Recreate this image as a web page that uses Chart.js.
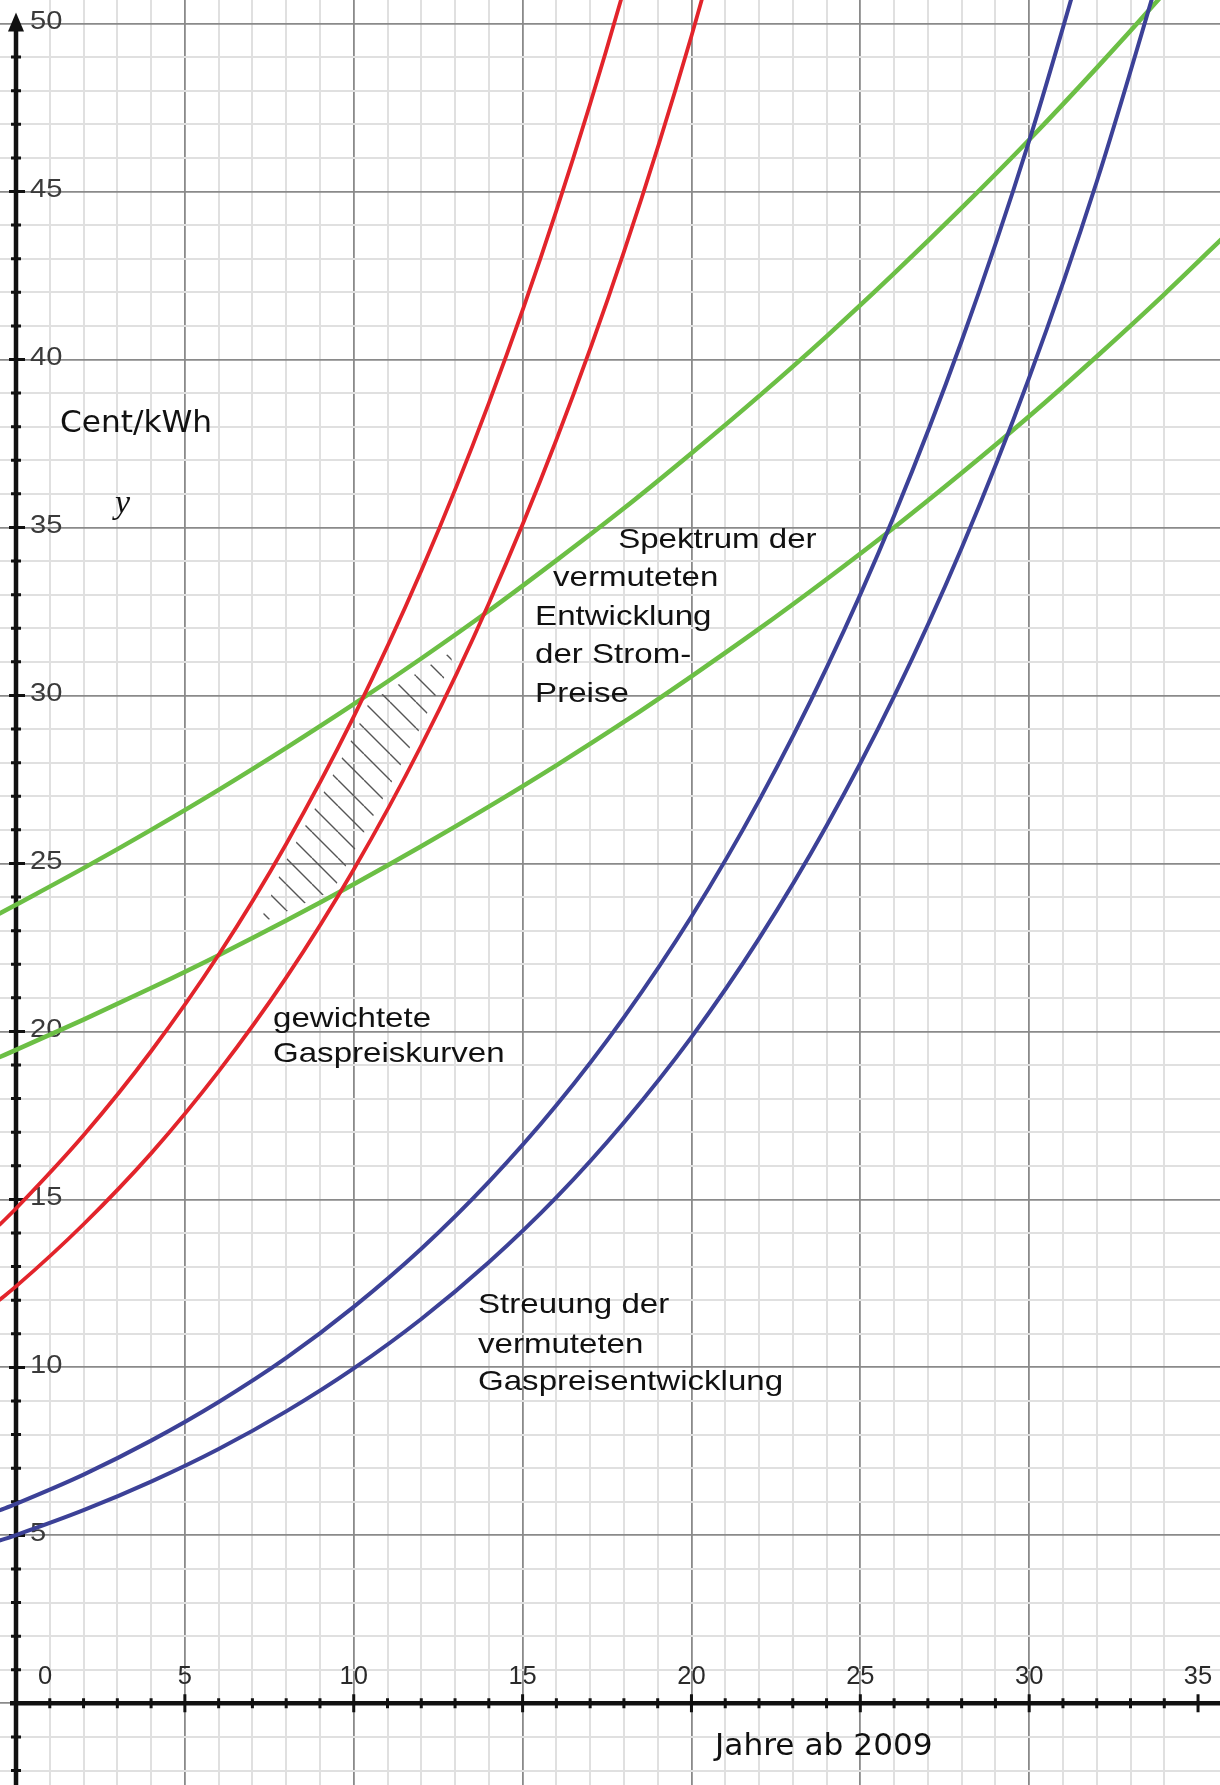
<!DOCTYPE html>
<html>
<head>
<meta charset="utf-8">
<title>Gas- und Strompreise</title>
<script src="https://cdn.jsdelivr.net/npm/chart.js@4.4.1/dist/chart.umd.min.js"></script>
<style>
  html, body { margin: 0; padding: 0; background: #fff; }
  #wrap { width: 1220px; height: 1785px; }
</style>
</head>
<body>
<div id="wrap"><canvas id="chart" width="1220" height="1785"></canvas></div>
<script>
// Jahre ab 2009 (x) and Cent/kWh values
const years = [-0.5, 0, 2, 4, 6, 8, 10, 12, 14, 16, 18, 20, 22, 24, 26, 28, 30, 32, 34, 36];

const gasWeightedHigh = [14.23, 14.73, 16.91, 19.41, 22.28, 25.58, 29.37, 33.71, 38.70, 44.43, 51.01, 58.55];
const gasWeightedLow  = [12.00, 12.41, 14.26, 16.37, 18.81, 21.60, 24.82, 28.51, 32.74, 37.61, 43.20, 49.63, 57.00];
const gasHigh = [5.74, 5.94, 6.81, 7.82, 8.97, 10.28, 11.80, 13.53, 15.52, 17.80, 20.42, 23.42, 26.87, 30.82, 35.35, 40.55, 46.51, 53.35];
const gasLow  = [4.84, 5.01, 5.75, 6.60, 7.57, 8.69, 9.97, 11.44, 13.13, 15.06, 17.29, 19.83, 22.76, 26.12, 29.97, 34.39, 39.46, 45.29, 51.97];
const stromHigh = [23.50, 23.77, 24.86, 26.00, 27.19, 28.44, 29.74, 31.10, 32.52, 34.02, 35.57, 37.21, 38.91, 40.69, 42.56, 44.51, 46.54, 48.68, 50.91, 53.24];
const stromLow  = [19.23, 19.45, 20.35, 21.29, 22.27, 23.30, 24.38, 25.51, 26.69, 27.92, 29.21, 30.57, 31.98, 33.46, 35.00, 36.62, 38.31, 40.09, 41.94, 43.88];

// outline of the hatched area (between the red and the green curves)
const hatchX = [7.2, 7.95, 9.05, 10.1, 10.45, 11.6, 12.9, 12.9, 11.95, 10.9, 9.8, 9.4, 8.3, 7.2];
const hatchY = [23.2, 25.0, 27.0, 29.0, 29.8, 30.5, 31.3, 31.0, 29.0, 27.0, 25.0, 24.2, 23.7, 23.2];

const xTickLabels = [0, 5, 10, 15, 20, 25, 30, 35];
const yTickLabels = [5, 10, 15, 20, 25, 30, 35, 40, 45, 50];

const pts = (xs, ys) => ys.map((v, i) => ({x: xs[i], y: v}));

function makeHatch() {
  const s = 26;
  const c = document.createElement('canvas');
  c.width = s; c.height = s;
  const g = c.getContext('2d');
  g.strokeStyle = '#555';
  g.lineWidth = 1.4;
  g.beginPath();
  for (const k of [-s, 0, s]) {
    g.moveTo(0, k);
    g.lineTo(s, k + s);
  }
  g.stroke();
  return g.createPattern(c, 'repeat');
}

function stretchText(ctx, str, x, y, sx) {
  ctx.save();
  ctx.translate(x, y);
  ctx.scale(sx, 1);
  ctx.fillText(str, 0, 0);
  ctx.restore();
}

function curve(data, color, width) {
  return {
    data: data, showLine: true, borderColor: color, borderWidth: width,
    pointRadius: 0, fill: false, cubicInterpolationMode: 'monotone'
  };
}

// black axes through the origin, with ticks and labels
const axesPlugin = {
  id: 'axes',
  beforeDatasetsDraw(chart) {
    const ctx = chart.ctx;
    const xs = chart.scales.x, ys = chart.scales.y;
    const x0 = xs.getPixelForValue(0), y0 = ys.getPixelForValue(0);
    const top = ys.getPixelForValue(50);
    ctx.save();
    ctx.strokeStyle = '#111';
    ctx.fillStyle = '#111';
    ctx.lineWidth = 4.5;
    ctx.beginPath();
    ctx.moveTo(x0, chart.height);
    ctx.lineTo(x0, top - 4);
    ctx.moveTo(x0 - 6, y0);
    ctx.lineTo(chart.width, y0);
    ctx.stroke();
    // arrow
    ctx.beginPath();
    ctx.moveTo(x0, top - 11);
    ctx.lineTo(x0 - 8, top + 8);
    ctx.lineTo(x0 + 8, top + 8);
    ctx.closePath();
    ctx.fill();
    // ticks
    ctx.lineWidth = 3;
    ctx.beginPath();
    for (let v = -2; v <= 49; v++) {
      if (v === 0) continue;
      const p = ys.getPixelForValue(v);
      const big = v % 5 === 0;
      ctx.moveTo(x0 - (big ? 7 : 5), p);
      ctx.lineTo(x0 + (big ? 9 : 5), p);
    }
    for (let v = 1; v <= 35; v++) {
      const p = xs.getPixelForValue(v);
      const big = v % 5 === 0;
      ctx.moveTo(p, y0 - (big ? 9 : 5));
      ctx.lineTo(p, y0 + (big ? 9 : 5));
    }
    ctx.stroke();
    // labels
    ctx.font = '26px "Liberation Sans", Arial, sans-serif';
    ctx.fillStyle = '#3a3a3a';
    ctx.textBaseline = 'middle';
    ctx.textAlign = 'left';
    yTickLabels.forEach(v => {
      stretchText(ctx, String(v), x0 + 14, ys.getPixelForValue(v) - 2, 1.12);
    });
    ctx.fillStyle = '#2a2a2a';
    ctx.font = '25px "Liberation Sans", Arial, sans-serif';
    ctx.textAlign = 'center';
    ctx.textBaseline = 'alphabetic';
    xTickLabels.forEach(v => {
      const p = v === 0 ? x0 + 29 : xs.getPixelForValue(v);
      stretchText(ctx, String(v), p, y0 - 19, 1.02);
    });
    ctx.restore();
  }
};

const notes = [
  {text: 'Spektrum der', x: 17.83, y: 34.39},
  {text: 'vermuteten', x: 15.90, y: 33.26},
  {text: 'Entwicklung', x: 15.37, y: 32.10},
  {text: 'der Strom-', x: 15.37, y: 30.97},
  {text: 'Preise', x: 15.37, y: 29.81},
  {text: 'gewichtete', x: 7.61, y: 20.13},
  {text: 'Gaspreiskurven', x: 7.61, y: 19.09},
  {text: 'Streuung der', x: 13.68, y: 11.62},
  {text: 'vermuteten', x: 13.68, y: 10.43},
  {text: 'Gaspreisentwicklung', x: 13.68, y: 9.33}
];

const notesPlugin = {
  id: 'notes',
  afterDatasetsDraw(chart) {
    const ctx = chart.ctx;
    const xs = chart.scales.x, ys = chart.scales.y;
    ctx.save();
    ctx.fillStyle = '#111';
    ctx.textAlign = 'left';
    ctx.textBaseline = 'alphabetic';
    ctx.font = '28.5px "Liberation Sans", Arial, sans-serif';
    notes.forEach(n => {
      stretchText(ctx, n.text, xs.getPixelForValue(n.x), ys.getPixelForValue(n.y), 1.16);
    });
    ctx.font = '30px "DejaVu Sans", sans-serif';
    stretchText(ctx, 'Cent/kWh', xs.getPixelForValue(1.30), ys.getPixelForValue(37.84), 1.04);
    stretchText(ctx, 'Jahre ab 2009', xs.getPixelForValue(20.70), ys.getPixelForValue(-1.53), 1.04);
    ctx.font = 'italic 34px "Liberation Serif", "DejaVu Serif", serif';
    ctx.fillText('y', xs.getPixelForValue(2.93), ys.getPixelForValue(35.43));
    ctx.restore();
  }
};

function gridColor(c) {
  const v = c.tick ? c.tick.value : NaN;
  const r = Math.round(v);
  if (Math.abs(v - r) > 1e-6) return 'rgba(0,0,0,0)';
  return r % 5 === 0 ? '#8a8a8a' : '#e0e0e0';
}
function gridWidth(c) {
  const v = c.tick ? c.tick.value : 0;
  return Math.round(v) % 5 === 0 ? 1.8 : 2;
}

new Chart(document.getElementById('chart'), {
  type: 'scatter',
  data: {
    datasets: [
      curve(pts(years, gasWeightedHigh), '#e2242b', 3.8),
      curve(pts(years, gasWeightedLow), '#e2242b', 3.8),
      curve(pts(years, gasHigh), '#3c4197', 4),
      curve(pts(years, gasLow), '#3c4197', 4),
      curve(pts(years, stromHigh), '#6cbf45', 4.5),
      curve(pts(years, stromLow), '#6cbf45', 4.5),
      {
        data: pts(hatchX, hatchY), showLine: true, borderWidth: 0,
        borderColor: 'rgba(0,0,0,0)', pointRadius: 0, tension: 0,
        fill: 'shape', backgroundColor: makeHatch()
      }
    ]
  },
  options: {
    responsive: false,
    animation: false,
    devicePixelRatio: 1,
    layout: {padding: 0},
    plugins: {legend: {display: false}, tooltip: {enabled: false}},
    scales: {
      x: {
        type: 'linear', min: -0.474, max: 35.65,
        border: {display: false},
        grid: {color: gridColor, lineWidth: gridWidth, drawTicks: false},
        ticks: {display: false, stepSize: 1, autoSkip: false}
      },
      y: {
        type: 'linear', min: -2.43, max: 50.70,
        border: {display: false},
        grid: {color: gridColor, lineWidth: gridWidth, drawTicks: false},
        ticks: {display: false, stepSize: 1, autoSkip: false}
      }
    }
  },
  plugins: [axesPlugin, notesPlugin]
});
</script>
</body>
</html>
